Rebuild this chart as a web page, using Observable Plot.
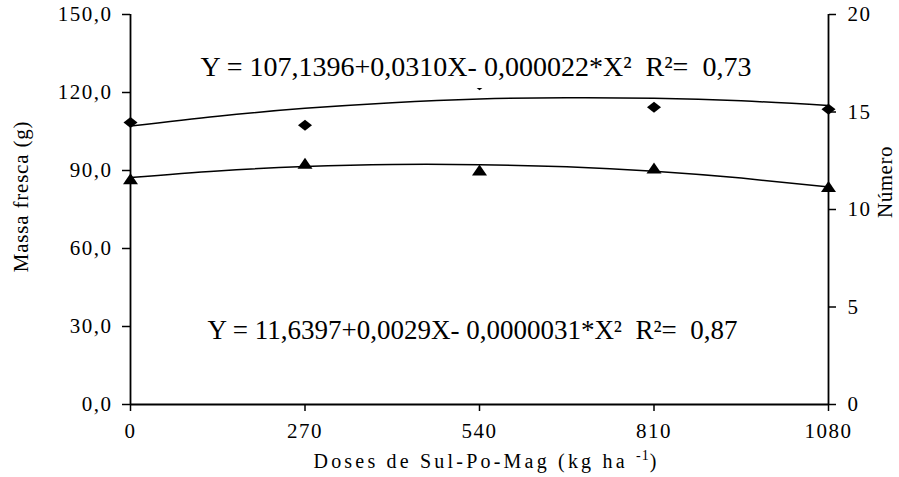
<!DOCTYPE html>
<html><head><meta charset="utf-8">
<script src="https://cdn.jsdelivr.net/npm/d3@7"></script>
<script src="https://cdn.jsdelivr.net/npm/@observablehq/plot@0.6"></script>
<style>
body{margin:0;background:#fff}
#chart svg, #chart svg *{font-family:"Liberation Serif","Times New Roman",serif !important;}
</style>
</head><body><div id="chart"></div>
<script>
// ---- data ----
const doses = [0, 270, 540, 810, 1080];
const massaFresca = [108.5, 107.4, 123.0, 114.3, 113.6];   // left axis (g)
const numero = [11.55, 12.35, 12.0, 12.1, 11.15];          // right axis
const fitDoses = [0, 135, 270, 405, 540, 675, 810, 945, 1080];
const massaFit = [107.1, 110.9, 113.9, 116.1, 117.5, 118.0, 117.8, 116.8, 115.0];
const numeroFit = [11.64, 11.98, 12.20, 12.31, 12.30, 12.19, 11.96, 11.61, 11.16];
const xTicks = [0, 270, 540, 810, 1080];
const leftTicks = [0, 30, 60, 90, 120, 150];
const rightTicks = [0, 5, 10, 15, 20];
const eqMassa = "Y = 107,1396+0,0310X- 0,000022*X²\u00a0 R²=\u00a0 0,73";
const eqNumero = "Y = 11,6397+0,0029X- 0,0000031*X²\u00a0 R²=\u00a0 0,87";
const xTitle = "Doses de Sul-Po-Mag (kg ha -1)";
const yTitle = "Massa fresca (g)";
const y2Title = "Número";

const leftMax = 150, rightMax = 20;
const k = leftMax / rightMax;

const pts = doses.map((d, i) => ({dose: d, massa: massaFresca[i], num: numero[i]}));
const fit = fitDoses.map((d, i) => ({dose: d, massa: massaFit[i], num: numeroFit[i]}));

const diamond = {draw(c) { c.moveTo(0, -5.5); c.lineTo(7, 0); c.lineTo(0, 5.5); c.lineTo(-7, 0); c.closePath(); }};
const triangle = {draw(c) { c.moveTo(0, -6); c.lineTo(7.5, 5); c.lineTo(-7.5, 5); c.closePath(); }};

const fmtLeft = d => d.toFixed(1).replace(".", ",");
const serif = '"Liberation Serif","Times New Roman",serif';

const chart = Plot.plot({
  width: 899,
  height: 477,
  marginLeft: 130,
  marginRight: 71,
  marginTop: 14,
  marginBottom: 73,
  style: {fontFamily: serif, fontSize: "21px", color: "#000", background: "#fff"},
  x: {domain: [0, 1080]},
  y: {domain: [0, leftMax]},
  marks: [
    Plot.axisX({ticks: xTicks, tickSize: 7, tickPadding: 12, tickFormat: d => String(d), label: null, fontSize: 21, strokeWidth: 1.5}),
    Plot.axisY({ticks: leftTicks, tickSize: 8, tickPadding: 10, tickFormat: fmtLeft, label: null, fontSize: 21, strokeWidth: 1.5}),
    Plot.axisY({anchor: "right", ticks: rightTicks.map(t => t * k), tickSize: 7, tickPadding: 12, tickFormat: d => String(Math.round(d / k)), label: null, fontSize: 21, strokeWidth: 1.5}),
    Plot.ruleX([0, 1080], {y1: 0, y2: leftMax, stroke: "#000", strokeWidth: 1.8}),
    Plot.ruleY([0], {x1: 0, x2: 1080, stroke: "#000", strokeWidth: 1.8}),
    Plot.line(fit, {x: "dose", y: "massa", curve: "natural", stroke: "#000", strokeWidth: 1.5}),
    Plot.line(fit, {x: "dose", y: d => d.num * k, curve: "natural", stroke: "#000", strokeWidth: 1.5}),
    Plot.dot(pts, {x: "dose", y: "massa", symbol: diamond, fill: "#000", stroke: null}),
    Plot.dot(pts, {x: "dose", y: d => d.num * k, symbol: triangle, fill: "#000", stroke: null}),
    Plot.text([eqMassa], {text: d => d, frameAnchor: "top", lineAnchor: "middle", fontSize: 28, fill: "#000"}),
    Plot.text([eqNumero], {text: d => d, frameAnchor: "bottom", lineAnchor: "middle", fontSize: 27, fill: "#000"}),
    Plot.text([yTitle], {text: d => d, frameAnchor: "left", textAnchor: "middle", lineAnchor: "middle", rotate: -90, fontSize: 21, fill: "#000"}),
    Plot.text([y2Title], {text: d => d, frameAnchor: "right", textAnchor: "middle", lineAnchor: "middle", rotate: -90, fontSize: 21, fill: "#000"}),
    Plot.text([xTitle], {text: d => d, frameAnchor: "bottom", lineAnchor: "middle", fontSize: 20, fill: "#000"})
  ]
});
document.getElementById("chart").appendChild(chart);

const NS = "http://www.w3.org/2000/svg";
// place a text element so that the centre of its box lands on (tx, ty)
function placeCenter(t, tx, ty, yRef) {
  const r = t.getBoundingClientRect();
  const ry = (yRef || t).getBoundingClientRect();
  const cx = r.x + r.width / 2, cy = ry.y + ry.height / 2;
  const old = t.getAttribute("transform") || "";
  t.setAttribute("transform", `translate(${(tx - cx).toFixed(2)},${(ty - cy).toFixed(2)}) ${old}`);
}
function whiteBox(t) {
  const b = t.getBBox();
  const r = document.createElementNS(NS, "rect");
  r.setAttribute("x", b.x - 4); r.setAttribute("y", b.y);
  r.setAttribute("width", b.width + 8); r.setAttribute("height", b.height + 6);
  r.setAttribute("fill", "#fff");
  if (t.getAttribute("transform")) r.setAttribute("transform", t.getAttribute("transform"));
  t.parentNode.insertBefore(r, t);
}

chart.querySelectorAll("text").forEach(t => {
  const s = t.textContent;
  if (/^[\d,]+$/.test(s)) {
    t.style.letterSpacing = "1.5px";
  } else if (s === eqMassa) {
    placeCenter(t, 476, 66.5); whiteBox(t);
  } else if (s === eqNumero) {
    placeCenter(t, 472.5, 330); whiteBox(t);
  } else if (s === yTitle) {
    t.style.letterSpacing = "0.8px";
    placeCenter(t, 20.5, 196.5);
  } else if (s === y2Title) {
    t.style.letterSpacing = "0.5px";
    placeCenter(t, 885, 182);
  } else if (s === xTitle) {
    t.textContent = "";
    t.style.letterSpacing = "3.2px";
    const a = document.createElementNS(NS, "tspan");
    a.textContent = "Doses de Sul-Po-Mag (kg ha ";
    const sup = document.createElementNS(NS, "tspan");
    sup.textContent = "-1"; sup.setAttribute("dy", "-8"); sup.setAttribute("font-size", "14");
    sup.style.letterSpacing = "1px";
    const c = document.createElementNS(NS, "tspan");
    c.textContent = ")"; c.setAttribute("dy", "8");
    t.append(a, sup, c);
    placeCenter(t, 486.5, 461.5, a);
  }
});
</script>
</body></html>
